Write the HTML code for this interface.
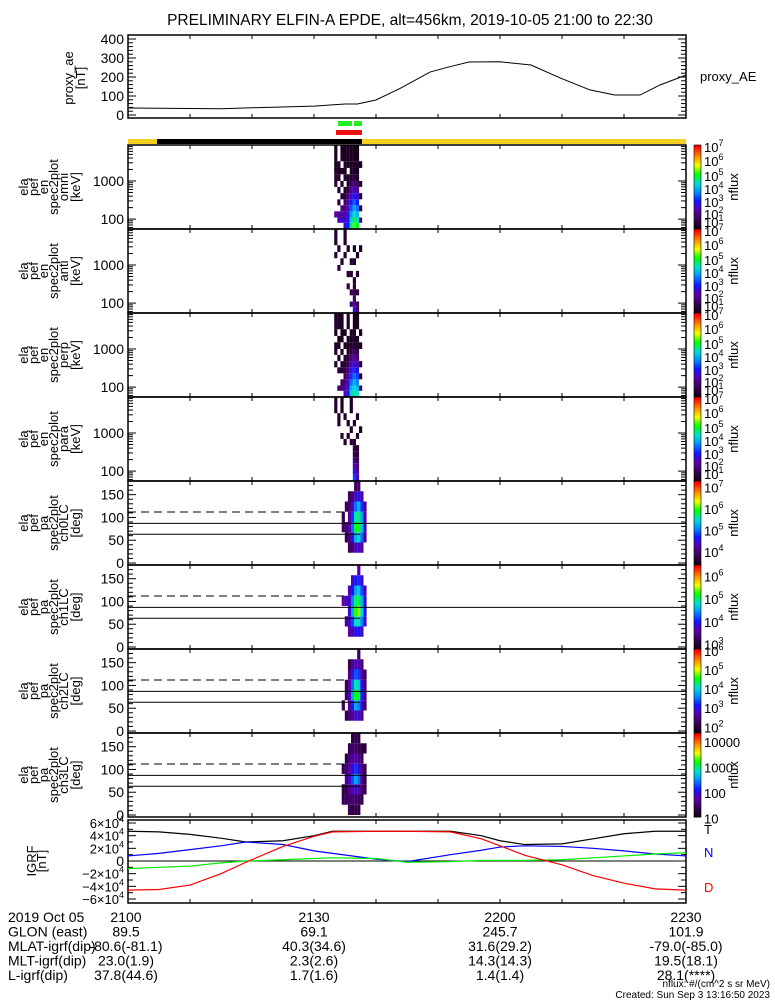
<!DOCTYPE html>
<html><head><meta charset="utf-8"><style>
html,body{margin:0;padding:0;background:#fff}
svg{display:block;font-family:"Liberation Sans",sans-serif}
text{font-family:"Liberation Sans",sans-serif}
</style></head><body>
<svg id="c" width="775" height="1000" viewBox="0 0 775 1000" xmlns="http://www.w3.org/2000/svg">
<text x="410" y="25" font-size="15.5" text-anchor="middle">PRELIMINARY ELFIN-A EPDE, alt=456km, 2019-10-05 21:00 to 22:30</text>
<g id="g"></g>
</svg>
<script>
// ---- data ----
const aeMin=[0,10,15,20,30,35,37,40,44,48.7,52,55,60,65,69.7,74.5,78.5,82.6,85.8,90];
const aeVal=[37,34,33,38,47,58,58,79,142,226,255,279,280,263,195,132,105,105,158,210];
const igrfMin=[0,5,10,15,19,25,30,33,40,45,52,57,60,64,70,75,80,85,90];
const igrfT=[4.7,4.6,4.2,3.6,3.0,3.2,4.0,4.7,4.7,4.7,4.7,4.0,3.2,2.6,2.7,3.5,4.3,4.7,4.7];
const igrfD=[-4.6,-4.5,-3.8,-2.0,-0.2,2.3,3.9,4.6,4.7,4.7,4.6,3.5,2.4,0.9,-0.6,-2.3,-3.5,-4.4,-4.6];
const igrfN=[0.8,1.2,1.8,2.4,3.0,2.6,1.6,1.2,0.3,-0.1,1.0,1.7,2.2,2.4,2.3,2.0,1.6,1.1,0.8];
const igrfG=[-1.2,-1.0,-0.8,-0.3,0.0,0.2,0.4,0.5,0.4,-0.2,-0.1,0.1,0.1,0.1,0.2,0.5,0.8,1.1,1.3];
const aeTicks=[0,100,200,300,400];
const eEdges=[55,80,110,160,230,330,480,700,1000,1500,2200,3300,8800];
const specTimes=[33.5,34,34.5,35,35.5,36,36.5,37,37.5];
const omni=[[0,0,2.3,0,0,0,0,1.5,1.3,1.2,1.1,1.2],[0,2.5,2.0,0,1.5,0,1.3,0,1.2,1.1,1.2,0],[0,2.6,2.4,2.0,0,1.4,0,1.2,0,1.1,0,1.2],[2.8,2.5,2.2,2.0,1.8,1.4,1.2,0,1.3,1.1,1.2,1.1],[3.0,3.0,2.8,2.5,2.2,2.0,1.5,1.3,1.1,0,1.1,1.2],[4.5,4.2,3.8,3.3,3.0,2.6,2.2,1.8,1.3,1.2,1.1,1.1],[5.2,4.8,4.3,3.9,3.4,3.0,2.5,2.0,1.5,1.2,1.1,1.1],[4.8,4.4,4.0,3.5,3.0,2.6,2.2,1.8,1.3,1.1,1.2,1.0],[0,2.0,0,1.5,0,1.3,0,1.2,0,0,1.1,0]];
const anti=[[0,0,0,0,0,0,0,0,0,1.5,0,1.3],[0,0,0,0,0,0,0,1.4,0,0,1.3,0],[0,0,0,0,0,0,0,0,1.3,0,0,0],[0,0,0,0,0,0,0,0,0,1.3,0,1.3],[0,0,0,0,1.5,0,1.3,0,0,0,1.2,0],[0,1.8,0,1.5,0,0,1.3,0,1.3,0,0,0],[2.8,2.3,1.9,1.6,1.4,1.3,0,0,1.2,0,1.2,0],[1.8,1.6,0,1.4,0,0,1.3,0,0,1.2,0,0],[0,0,0,0,0,0,0,0,0,0,1.2,0]];
const perp=[[0,0,0,0,0,1.3,0,1.3,1.2,0,1.2,1.3],[0,1.8,0,0,1.4,0,1.3,0,1.2,1.1,0,1.2],[0,2.0,1.8,0,1.5,1.3,0,1.2,0,1.1,1.2,1.1],[2.5,2.2,2.0,1.8,1.5,1.3,1.2,0,1.2,0,1.1,0],[2.8,2.8,2.5,2.2,2.0,1.7,1.4,1.2,1.1,1.2,0,1.2],[4.2,3.9,3.5,3.1,2.8,2.4,2.0,1.6,1.3,1.1,1.2,0],[4.6,4.3,3.9,3.5,3.1,2.7,2.3,1.8,1.4,1.2,1.1,1.1],[4.3,4.0,3.6,3.2,2.8,2.4,2.0,1.6,1.2,1.1,0,1.1],[0,1.8,0,1.4,0,1.2,0,0,1.2,0,1.1,0]];
const para=[[0,0,0,0,0,0,0,0,0,0,0,1.3],[0,0,0,0,0,0,0,0,0,1.3,1.2,0],[0,0,0,0,0,0,0,1.3,0,0,0,1.2],[0,0,0,0,0,0,1.3,0,0,0,1.3,0],[0,0,0,0,0,0,0,1.2,0,1.2,0,0],[0,0,0,0,0,0,1.3,0,1.3,0,0,1.2],[3.2,2.9,2.4,2.0,1.6,1.4,1.3,0,0,1.2,0,0],[2.6,2.3,2.0,1.7,1.4,1.3,0,1.2,0,0,1.2,0],[0,0,0,0,0,0,0,0,1.2,0,0,0]];
const paEdges=[0,22.5,45,67.5,90,112.5,135,157.5,180];
const paTimes=[33.5,34,34.5,35,35.5,36,36.5,37];
const ch0=[[0,0,0,3.9,3.8,0,0,0],[0,0,3.8,4.0,0,3.9,0,0],[0,3.9,4.1,4.3,4.2,4.0,3.9,0],[0,4.0,4.6,5.0,4.8,4.4,4.0,0],[0,4.3,5.3,5.9,5.6,5.0,4.4,3.9],[0,4.5,5.5,6.0,5.8,5.3,4.6,4.0],[0,4.2,5.0,5.4,5.2,4.8,4.3,0],[0,0,4.2,4.4,4.3,4.1,0,0]];
const ch1=[[0,0,0,0,3.6,0,0,0],[0,0,3.5,0,3.7,0,0,0],[0,3.6,3.8,3.9,3.8,3.7,0,0],[0,3.7,4.2,4.6,4.4,4.0,3.7,0],[0,3.9,4.8,5.3,5.0,4.5,4.0,0],[0,4.0,4.9,5.5,5.2,4.7,4.1,3.6],[0,3.8,4.4,4.8,4.6,4.2,3.8,0],[0,0,3.8,4.0,3.9,3.7,0,0]];
const ch2=[[0,0,2.2,0,0,0,0,0],[0,2.1,0,2.3,2.2,0,0,0],[0,2.4,2.6,2.8,2.7,2.5,2.2,0],[0,2.6,3.2,3.8,3.5,3.0,2.5,0],[0,2.8,3.8,4.6,4.2,3.4,2.8,0],[0,2.9,3.6,4.4,4.0,3.3,2.7,2.2],[0,2.5,2.9,3.2,3.0,2.7,2.4,0],[0,0,2.3,2.5,2.4,2.2,0,0]];
const ch3=[[0,1.4,1.3,0,1.4,0,0,0],[0,1.5,1.4,1.6,1.5,1.3,0,0],[1.4,1.5,1.7,1.9,1.8,1.6,1.4,0],[1.3,1.6,1.8,2.3,2.0,1.7,1.5,1.3],[1.4,1.5,1.9,2.6,2.2,1.8,1.5,1.4],[1.3,1.4,1.8,2.4,2.0,1.6,1.4,1.3],[0,1.4,1.5,1.7,1.6,1.5,1.3,0],[0,0,1.4,1.3,1.4,0,1.3,0]];
const bottomRows=[["2019 Oct 05","2100","2130","2200","2230"],["GLON (east)","89.5","69.1","245.7","101.9"],["MLAT-igrf(dip)","-80.6(-81.1)","40.3(34.6)","31.6(29.2)","-79.0(-85.0)"],["MLT-igrf(dip)","23.0(1.9)","2.3(2.6)","14.3(14.3)","19.5(18.1)"],["L-igrf(dip)","37.8(44.6)","1.7(1.6)","1.4(1.4)","28.1(****)"]];

// ---- helpers ----
const NS='http://www.w3.org/2000/svg';const G=document.getElementById('g');
function el(t,a,p){const e=document.createElementNS(NS,t);for(const k in a)e.setAttribute(k,a[k]);(p||G).appendChild(e);return e;}
const X0=128,X1=686;const X=m=>X0+(X1-X0)*m/90;
const stops=[[0,[20,0,20]],[0.12,[60,0,90]],[0.22,[90,0,170]],[0.33,[20,20,255]],[0.45,[0,150,255]],[0.55,[0,225,210]],[0.66,[0,255,0]],[0.77,[240,255,0]],[0.88,[255,140,0]],[1,[255,0,0]]];
function cmap(t){t=Math.max(0,Math.min(1,t));for(let i=1;i<stops.length;i++){if(t<=stops[i][0]){const a=stops[i-1],b=stops[i];const f=(t-a[0])/(b[0]-a[0]);const c=a[1].map((v,j)=>Math.round(v+(b[1][j]-v)*f));return `rgb(${c})`;}}return 'rgb(255,0,0)';}
function panelFrame(y0,y1,name){const r=el('rect',{x:X0,y:y0,width:X1-X0,height:y1-y0,fill:'none',stroke:'#000','stroke-width':1.5});

for(let m=10;m<90;m+=10){el('line',{x1:X(m),x2:X(m),y1:y0,y2:y0+4,stroke:'#000'});el('line',{x1:X(m),x2:X(m),y1:y1,y2:y1-4,stroke:'#000'});}}
function ylabel(lines,xs,cy,name){const g=el('g',{});
lines.forEach((s,i)=>{const t=el('text',{x:xs[i],y:cy,'font-size':13,'text-anchor':'middle',transform:`rotate(-90 ${xs[i]} ${cy})`},g);t.textContent=s;});}
function ytick(y,len){el('line',{x1:X0,x2:X0+len,y1:y,y2:y,stroke:'#000'});el('line',{x1:X1,x2:X1-len,y1:y,y2:y,stroke:'#000'});}
function lab(x,y,s,sz,anchor,fill){const t=el('text',{x:x,y:y,'font-size':sz||13,'text-anchor':anchor||'end',fill:fill||'#000'});t.textContent=s;return t;}
function colorbar(y0,y1,lo,hi,labels,name){const g=el('g',{});
const n=40;for(let i=0;i<n;i++){el('rect',{x:694,y:y1-(i+1)*(y1-y0)/n,width:7,height:(y1-y0)/n+0.5,fill:cmap(i/(n-1))},g);}
el('rect',{x:694,y:y0,width:7,height:y1-y0,fill:'none',stroke:'#000','stroke-width':0.6},g);
labels.forEach(L=>{const yy=y1-(L[0]-lo)/(hi-lo)*(y1-y0);const t=el('text',{x:704,y:yy+5,'font-size':13},g);
if(L[1]){t.textContent='10';const s=el('tspan',{dy:-6,'font-size':9},t);s.textContent=String(L[0]);}else{t.textContent=String(Math.round(Math.pow(10,L[0])));}});
const cy=(y0+y1)/2;const t=el('text',{x:738,y:cy,'font-size':13,'text-anchor':'middle',transform:`rotate(-90 738 ${cy})`},g);t.textContent='nflux';}

// ---- proxy_ae ----
const aY0=35,aY1=118,aeY=v=>115-v*0.19;
panelFrame(aY0,aY1,'proxy-ae-panel');
for(let v=0;v<=400;v+=20)ytick(aeY(v),v%100==0?8:5);
aeTicks.forEach(v=>lab(124,aeY(v)+5,String(v),14));
ylabel(['proxy_ae','[nT]'],[73,85],78,'proxy-ae-y-title');
{const p=el('polyline',{points:aeMin.map((m,i)=>X(m)+','+aeY(aeVal[i])).join(' '),fill:'none',stroke:'#000','stroke-width':1});}
lab(700,81,'proxy_AE',13,'start');
// status bars
el('rect',{x:338,y:121,width:14,height:5,fill:'#22ee22'});el('rect',{x:354,y:121,width:8,height:5,fill:'#22ee22'});
el('rect',{x:336,y:130,width:26,height:5,fill:'#ee1111'});
el('rect',{x:128,y:139,width:558,height:5,fill:'#f5d020'});el('rect',{x:157,y:139,width:205,height:5,fill:'#000'});

// ---- spectrograms ----
const specPanels=[[145,229,'omni',omni],[229,313,'anti',anti],[313,397,'perp',perp],[397,481,'para',para]];
const eLo=Math.log10(55),eHi=Math.log10(8800);
specPanels.forEach(([y0,y1,nm,mat])=>{
 const eY=e=>y1-(Math.log10(e)-eLo)/(eHi-eLo)*(y1-y0);
 const g=el('g',{});
 mat.forEach((col,i)=>col.forEach((v,j)=>{if(!v)return;el('rect',{x:X(specTimes[i])-1.5,y:eY(eEdges[j+1]),width:3.2,height:eY(eEdges[j])-eY(eEdges[j+1]),fill:cmap((v-1)/6)},g);}));
 panelFrame(y0,y1,nm+'-panel');
 [60,70,80,90,100,200,300,400,500,600,700,800,900,1000,2000,3000,4000,5000,6000,7000,8000].forEach(e=>ytick(eY(e),(e==100||e==1000)?8:5));
 lab(124,eY(1000)+5,'1000',14);lab(124,eY(100)+5,'100',14);
 ylabel(['ela','pef','en','spec2plot',nm,'[keV]'],[28,38,48,58,68,80],(y0+y1)/2,nm+'-y-title');
 colorbar(y0,y1,1,7,[],nm+'-colorbar');
});
const eLabY=[147,161,176,189,202,214,222];
[0,84,168,252].forEach(off=>{eLabY.forEach((yy,i)=>{const t=el('text',{x:704,y:yy+off+5,'font-size':13});t.textContent='10';const s=el('tspan',{dy:-6,'font-size':9},t);s.textContent=String(7-i);});});

// ---- pitch angle panels ----
const paPanels=[[481,565,'ch0LC',ch0,3.4,7.3,[[7,1],[6,1],[5,1],[4,1]]],[565,649,'ch1LC',ch1,2.8,6.5,[[6,1],[5,1],[4,1],[3,1]]],[649,733,'ch2LC',ch2,1.7,6.1,[[6,1],[5,1],[4,1],[3,1],[2,1]]],[733,817,'ch3LC',ch3,1.05,4.35,[[4,0],[3,0],[2,0],[1,0]]]];
paPanels.forEach(([y0,y1,nm,mat,lo,hi,cl])=>{
 const pY=a=>y1-2-a*(y1-2-y0)/180;
 const g=el('g',{});
 mat.forEach((col,i)=>col.forEach((v,j)=>{if(!v)return;el('rect',{x:X(paTimes[i])+6,y:pY(paEdges[j+1]),width:3.2,height:pY(paEdges[j])-pY(paEdges[j+1]),fill:cmap((v-lo)/(hi-lo))},g);}));
 el('line',{x1:X0,x2:345,y1:pY(112),y2:pY(112),stroke:'#000','stroke-dasharray':'8,5'});
 el('line',{x1:X0,x2:X1,y1:pY(87),y2:pY(87),stroke:'#000'});
 el('line',{x1:X0,x2:360,y1:pY(63),y2:pY(63),stroke:'#000'});
 panelFrame(y0,y1,nm+'-panel');
 for(let a=0;a<=180;a+=10)ytick(pY(a),a%50==0?8:5);
 [0,50,100,150].forEach(a=>lab(124,pY(a)+5,String(a),14));
 ylabel(['ela','pef','pa','spec2plot',nm,'[deg]'],[28,38,48,58,68,80],(y0+y1)/2,nm+'-y-title');
 colorbar(y0,y1,lo,hi,cl,nm+'-colorbar');
});

// ---- IGRF ----
const iY0=820,iY1=903,iY=v=>861-v*38/6;
panelFrame(iY0,iY1,'igrf-panel');
for(let v=-6;v<=6;v+=1)ytick(iY(v),v%2==0?8:5);
[6,4,2,-2,-4,-6].forEach(v=>{const t=lab(124,iY(v)+5,(v<0?'−':'')+Math.abs(v)+'×10',13);const s=el('tspan',{dy:-6,'font-size':9},t);s.textContent='4';});
lab(124,iY(0)+5,'0',14);
el('line',{x1:X0,x2:X1,y1:iY(0),y2:iY(0),stroke:'#000'});
ylabel(['IGRF','[nT]'],[36,46],861,'igrf-y-title');
[[igrfT,'#000','igrf-total-line'],[igrfN,'#0000ff','igrf-north-line'],[igrfG,'#00ee00','igrf-east-line'],[igrfD,'#ff0000','igrf-down-line']].forEach(([arr,c,n])=>{
 const p=el('polyline',{points:igrfMin.map((m,i)=>X(m)+','+iY(arr[i])).join(' '),fill:'none',stroke:c,'stroke-width':1.2});
 });
lab(704,834,'T',13,'start','#000');lab(704,857,'N',13,'start','#0000ff');lab(704,892,'D',13,'start','#ff0000');

// ---- bottom text ----
const colX=[8,126,314,500,686];
bottomRows.forEach((r,i)=>{const y=922+i*14.5;lab(8,y,r[0],14,'start');for(let k=1;k<5;k++)lab(colX[k],y,r[k],14,'middle');});
lab(770,987,'nflux: #/(cm^2 s sr MeV)',10,'end');lab(770,998,'Created: Sun Sep  3 13:16:50 2023',10,'end');
</script>
</body></html>
